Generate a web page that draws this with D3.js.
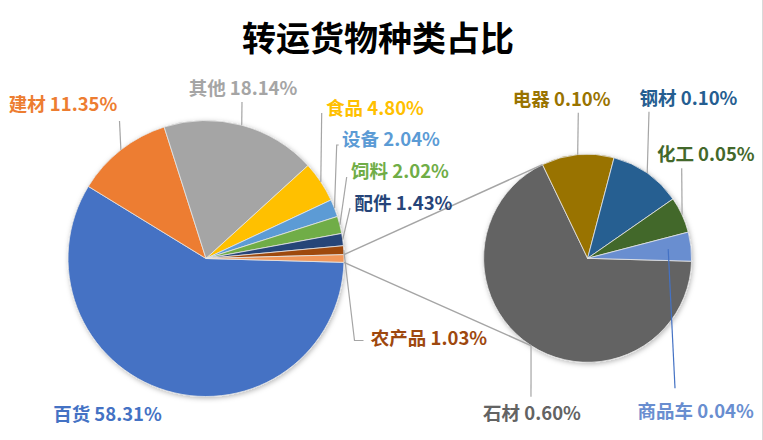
<!DOCTYPE html>
<html><head><meta charset="utf-8">
<script src="https://cdn.jsdelivr.net/npm/d3@7"></script>
<style>
html,body{margin:0;padding:0;background:#fff;}
svg{display:block;}
text{font-family:"Noto Sans CJK SC","Noto Sans",sans-serif;}
</style></head>
<body>
<svg id="chart" width="763" height="440"></svg>
<script>
// ---- data ----
const title = "转运货物种类占比";
const mainCategories = ["百货","建材","其他","食品","设备","饲料","配件","农产品"];
const mainValues     = [58.31, 11.35, 18.14, 4.80, 2.04, 2.02, 1.43, 1.03];
const subCategories  = ["石材","电器","钢材","化工","商品车"];
const subValues      = [0.60, 0.10, 0.10, 0.05, 0.04];

// ---- styles / layout (not data) ----
const mainColors = ["#4472C4","#ED7D31","#A5A5A5","#FFC000","#5B9BD5","#70AD47","#264478","#9E480E"];
const aggColor = "#F1975A";
const subColors = ["#636363","#997300","#255E91","#43682B","#698ED0"];
const mainGeom = {cx:206, cy:258.5, r:138};
const subGeom  = {cx:587.6, cy:258.3, r:104};
// label text centre (lx,ly) and leader end (ex,ey)
const labelLayout = {
  "百货": {lx:107.5, ly:413, ex:null},
  "建材": {lx:63,  ly:103, ex:119.5, ey:121},
  "其他": {lx:243, ly:87,  ex:242,   ey:102},
  "食品": {lx:375, ly:107, ex:321.7, ey:113},
  "设备": {lx:391, ly:138, ex:336.7, ey:145, hook:2},
  "饲料": {lx:400, ly:170, ex:346.7, ey:177},
  "配件": {lx:403.5, ly:201.5, ex:350, ey:208},
  "农产品": {lx:429, ly:336.5, ex:354.5, ey:340.5, hook:9},
  "石材": {lx:532, ly:411.5, ex:531, ey:396.7},
  "电器": {lx:561.7, ly:98.3, ex:578.3, ey:112.7},
  "钢材": {lx:688.5, ly:96.7, ex:649, ey:111.7},
  "化工": {lx:705.8, ly:153.3, ex:681.7, ey:168.3},
  "商品车": {lx:695.7, ly:410, ex:675, ey:388.3, inner:0.78, lineColor:"#4472C4"}
};

const svg = d3.select("#chart");
const defs = svg.append("defs");
const f = defs.append("filter").attr("id","shadow").attr("x","-20%").attr("y","-20%").attr("width","140%").attr("height","140%");
f.append("feDropShadow").attr("dx",1).attr("dy",1.5).attr("stdDeviation",2.5).attr("flood-color","#000").attr("flood-opacity",0.28);

// border on the right
svg.append("line").attr("x1",762.5).attr("x2",762.5).attr("y1",0).attr("y2",440).attr("stroke","#D9D9D9").attr("stroke-width",1);

// title
svg.append("text").attr("x",378).attr("y",36).attr("text-anchor","middle").attr("dominant-baseline","central")
  .attr("font-size",34).attr("font-weight",700).attr("fill","#000").text(title);

const aggValue = d3.sum(subValues);
const total = d3.sum(mainValues) + aggValue;
const halfAgg = aggValue/total*Math.PI;
const start = Math.PI/2 + halfAgg;

const mainData = mainCategories.map((c,i)=>({name:c, value:mainValues[i], color:mainColors[i]}));
mainData.push({name:"__agg", value:aggValue, color:aggColor});
const subData = subCategories.map((c,i)=>({name:c, value:subValues[i], color:subColors[i]}));

const pie = d3.pie().sort(null).value(d=>d.value).startAngle(start).endAngle(start+2*Math.PI);
const mainArcs = pie(mainData);
const subArcs = pie(subData);

function pt(g, a, rr){ return [g.cx + rr*Math.sin(a), g.cy - rr*Math.cos(a)]; }

function drawPie(arcs, g){
  const arc = d3.arc().innerRadius(0).outerRadius(g.r);
  const grp = svg.append("g").attr("transform",`translate(${g.cx},${g.cy})`).attr("filter","url(#shadow)");
  grp.selectAll("path").data(arcs).join("path")
    .attr("d",arc).attr("fill",d=>d.data.color)
    .attr("stroke","#E6E6E6").attr("stroke-width",0.8).attr("stroke-linejoin","round");
}
drawPie(mainArcs, mainGeom);
drawPie(subArcs, subGeom);

// connector lines: from edges of the aggregated slice to the secondary pie
const agg = mainArcs[mainArcs.length-1];
const p1 = pt(mainGeom, agg.startAngle, mainGeom.r);
const p2 = pt(mainGeom, agg.endAngle, mainGeom.r);
const stone = subArcs[0];
const q2 = pt(subGeom, stone.endAngle, subGeom.r);
const q3 = pt(subGeom, (stone.startAngle + stone.endAngle)/2, subGeom.r);
svg.append("line").attr("x1",p1[0]).attr("y1",p1[1]).attr("x2",q2[0]).attr("y2",q2[1]).attr("stroke","#A5A5A5").attr("stroke-width",1.5);
svg.append("line").attr("x1",p2[0]).attr("y1",p2[1]).attr("x2",q3[0]).attr("y2",q3[1]).attr("stroke","#A5A5A5").attr("stroke-width",1.5);

// labels + leaders
function drawLabels(arcs, g){
  arcs.forEach((d)=>{
    const L = labelLayout[d.data.name];
    if(!L) return;
    const mid = (d.startAngle+d.endAngle)/2;
    if(L.ex!=null){
      const s = pt(g, mid, g.r*(L.inner||1));
      const pts = [s, [L.ex, L.ey]];
      if(L.hook) pts.push([L.ex+L.hook, L.ey]);
      svg.append("path").attr("d", d3.line()(pts)).attr("fill","none")
        .attr("stroke", L.lineColor || "#A5A5A5").attr("stroke-width",1.2);
    }
    const pct = d3.format(".2f")(d.data.value) + "%";
    svg.append("text").attr("x",L.lx).attr("y",L.ly).attr("text-anchor","middle").attr("dominant-baseline","central")
      .attr("font-size",18.5).attr("font-weight",700).attr("fill",d.data.color).text(d.data.name + " " + pct);
  });
}
drawLabels(mainArcs, mainGeom);
drawLabels(subArcs, subGeom);
</script>
</body></html>
